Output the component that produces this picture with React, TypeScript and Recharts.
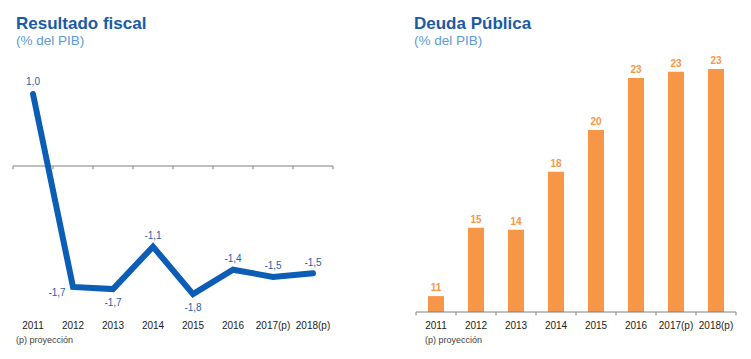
import { LineChart, Line, BarChart, Bar, XAxis, YAxis, ReferenceLine, LabelList } from "recharts";

const years = ["2011", "2012", "2013", "2014", "2015", "2016", "2017(p)", "2018(p)"];
const resultadoFiscal = [1.0, -1.68, -1.71, -1.12, -1.78, -1.44, -1.54, -1.49];
const deudaPublica = [10.85, 14.5, 14.4, 17.5, 19.73, 22.5, 22.84, 22.99];

const FONT = "'Liberation Sans', Arial, sans-serif";
const BLUE = "#0b5db5";
const ORANGE = "#f79646";
const AXIS = "#808080";

const fiscalData = years.map((year, i) => ({ year, value: resultadoFiscal[i] }));
const deudaData = years.map((year, i) => ({ year, value: deudaPublica[i] }));

// where each line label sits relative to its point
const fiscalPlacement = ["top", "left", "bottom", "top", "bottom", "top", "top", "top"];

const fmtComma = (v: number) => v.toFixed(1).replace(".", ",");

function FiscalLabel(props: any) {
  const { x, y, value, index } = props;
  const p = fiscalPlacement[index];
  let dx = 0;
  let dy = index === 0 ? -13 : -11;
  if (p === "bottom") dy = 13;
  if (p === "left") {
    dx = -16;
    dy = 6;
  }
  return (
    <text x={x + dx} y={y + dy} textAnchor="middle" dominantBaseline="central" fill="#1d5fae" fontSize={10} fontFamily={FONT}>
      {fmtComma(Number(value))}
    </text>
  );
}

function Heading({ title, left }: { title: string; left: number }) {
  return (
    <div style={{ position: "absolute", left, top: 14, fontFamily: FONT }}>
      <div style={{ fontSize: 17, fontWeight: 700, color: "#1a5ba8", lineHeight: "20px" }}>{title}</div>
      <div style={{ fontSize: 13.5, color: "#5b9bd8", lineHeight: "14px" }}>(% del PIB)</div>
    </div>
  );
}

function Note({ left }: { left: number }) {
  return (
    <div style={{ position: "absolute", left, top: 335, fontFamily: FONT, fontSize: 9, color: "#404040" }}>
      (p) proyección
    </div>
  );
}

const tickStyle = { fontSize: 10, fill: "#1a1a1a", fontFamily: FONT };

export default function App() {
  const last = years.length - 1;
  return (
    <div style={{ position: "fixed", left: 0, top: 0, width: 751, height: 359, background: "#fff", overflow: "hidden" }}>
      <Heading title="Resultado fiscal" left={16} />
      <Heading title="Deuda Pública" left={414} />

      <div style={{ position: "absolute", left: 0, top: 0 }}>
        <LineChart width={345} height={359} data={fiscalData} margin={{ top: 79.6, right: 12, left: 13, bottom: 19 }}>
          <XAxis dataKey="year" scale="band" axisLine={false} tickLine={false} tick={tickStyle} tickMargin={6} height={30} interval={0} />
          <YAxis hide domain={[-2, 1.2]} allowDataOverflow />
          <ReferenceLine y={0} stroke={AXIS} strokeWidth={1} />
          {years.map((y) => (
            <ReferenceLine key={y} segment={[{ x: y, y: 0 }, { x: y, y: -0.045 }]} position="start" stroke={AXIS} />
          ))}
          <ReferenceLine segment={[{ x: years[last], y: 0 }, { x: years[last], y: -0.045 }]} position="end" stroke={AXIS} />
          <Line
            dataKey="value"
            stroke={BLUE}
            strokeWidth={6}
            strokeLinecap="round"
            strokeLinejoin="miter"
            dot={false}
            activeDot={false}
            type="linear"
            isAnimationActive={false}
          >
            <LabelList dataKey="value" content={FiscalLabel} />
          </Line>
        </LineChart>
      </div>

      <div style={{ position: "absolute", left: 380, top: 0 }}>
        <BarChart width={371} height={359} data={deudaData} margin={{ top: 50, right: 15, left: 36, bottom: 17 }}>
          <XAxis dataKey="year" axisLine={{ stroke: AXIS }} tickLine={false} tick={tickStyle} tickMargin={4} height={30} interval={0} />
          <YAxis hide domain={[10, 24]} allowDataOverflow />
          {years.map((y) => (
            <ReferenceLine key={y} segment={[{ x: y, y: 10 }, { x: y, y: 9.82 }]} position="start" stroke={AXIS} ifOverflow="visible" />
          ))}
          <ReferenceLine segment={[{ x: years[last], y: 10 }, { x: years[last], y: 9.82 }]} position="end" stroke={AXIS} ifOverflow="visible" />
          <Bar dataKey="value" fill={ORANGE} barSize={16} isAnimationActive={false}>
            <LabelList
              dataKey="value"
              position="top"
              offset={5}
              formatter={(v: any) => String(Math.round(Number(v)))}
              style={{ fill: ORANGE, fontSize: 10, fontWeight: 700, fontFamily: FONT }}
            />
          </Bar>
        </BarChart>
      </div>

      <Note left={16} />
      <Note left={425} />
    </div>
  );
}
